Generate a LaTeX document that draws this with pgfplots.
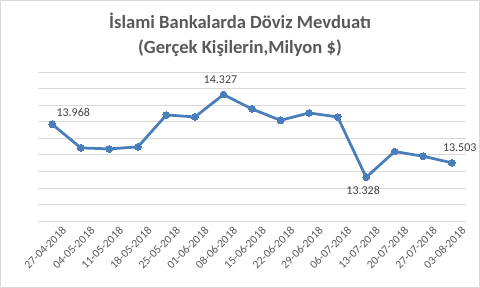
\documentclass[border=0pt]{standalone}
\usepackage{fontspec}
\setmainfont{Carlito}
\usepackage{pgfplots}
\pgfplotsset{compat=1.18}
\definecolor{lineblue}{RGB}{74,126,187}
\definecolor{txt}{RGB}{89,89,89}
\definecolor{lbl}{RGB}{64,64,64}
\definecolor{gridc}{RGB}{217,217,217}
\begin{document}
\begin{tikzpicture}[x=1pt,y=1pt]
\draw[gridc, line width=0.75pt] (0.4,-0.4) rectangle (479.6,-287.6);
\node[font=\fontsize{18.6}{25}\selectfont\bfseries, text=txt, align=center] at (240,-35) {İslami Bankalarda Döviz Mevduatı\\(Gerçek Kişilerin,Milyon \$)};
\begin{axis}[at={(38pt,-221pt)}, anchor=south west, scale only axis,
  width=428pt, height=149pt,
  xmin=-0.5, xmax=14.5, ymin=12.8, ymax=14.6,
  ytick={12.8,13.0,13.2,13.4,13.6,13.8,14.0,14.2,14.4,14.6}, yticklabels={},
  ymajorgrids, grid style={gridc, line width=0.75pt},
  axis line style={draw=none}, major tick length=0pt,
  xtick={0,...,14},
  xticklabels={27-04-2018,04-05-2018,11-05-2018,18-05-2018,25-05-2018,01-06-2018,08-06-2018,15-06-2018,22-06-2018,29-06-2018,06-07-2018,13-07-2018,20-07-2018,27-07-2018,03-08-2018},
  x tick label style={rotate=45, anchor=east, font=\fontsize{11.5}{14}\selectfont, text=txt, inner sep=0pt, xshift=3pt, yshift=-14pt},
  clip=false]
\addplot[lineblue, line width=2.75pt, mark=*, mark size=3.4pt, mark options={fill=lineblue, draw=lineblue, line width=0pt}]
coordinates {(0,13.968)(1,13.683)(2,13.671)(3,13.695)(4,14.081)(5,14.057)(6,14.327)(7,14.153)(8,14.016)(9,14.105)(10,14.057)(11,13.328)(12,13.639)(13,13.582)(14,13.503)};
\addplot[draw=none, no markers, forget plot, nodes near coords, point meta=explicit symbolic,
  every node near coord/.append style={anchor=center, font=\fontsize{12}{14}\selectfont, text=lbl, xshift=21pt, yshift=12pt}]
  coordinates {(0,13.968)[13.968]};
\addplot[draw=none, no markers, forget plot, nodes near coords, point meta=explicit symbolic,
  every node near coord/.append style={anchor=center, font=\fontsize{12}{14}\selectfont, text=lbl, xshift=-3pt, yshift=15pt}]
  coordinates {(6,14.327)[14.327]};
\addplot[draw=none, no markers, forget plot, nodes near coords, point meta=explicit symbolic,
  every node near coord/.append style={anchor=center, font=\fontsize{12}{14}\selectfont, text=lbl, xshift=-3pt, yshift=-13pt}]
  coordinates {(11,13.328)[13.328]};
\addplot[draw=none, no markers, forget plot, nodes near coords, point meta=explicit symbolic,
  every node near coord/.append style={anchor=center, font=\fontsize{12}{14}\selectfont, text=lbl, xshift=8pt, yshift=15pt}]
  coordinates {(14,13.503)[13.503]};
\end{axis}
\end{tikzpicture}
\end{document}
